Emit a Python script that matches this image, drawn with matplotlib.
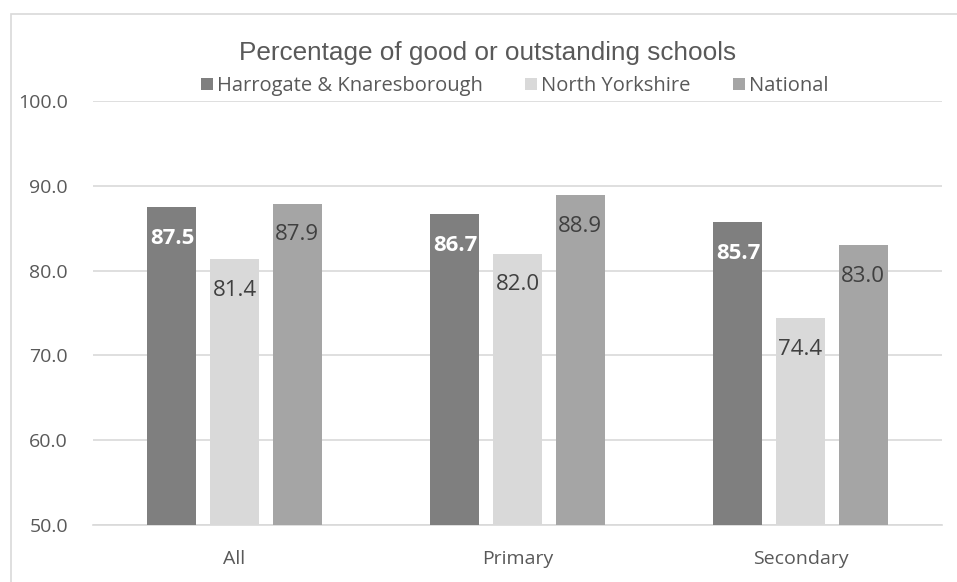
import numpy as np
import matplotlib
matplotlib.use("Agg")
from matplotlib import pyplot as plt
from matplotlib.patches import Rectangle

categories = ["All", "Primary", "Secondary"]
series_names = ["Harrogate & Knaresborough", "North Yorkshire", "National"]
harrogate = [87.5, 86.7, 85.7]
north_yorks = [81.4, 82.0, 74.4]
national = [87.9, 88.9, 83.0]
yticks = [50, 60, 70, 80, 90, 100]

colors = ["#7f7f7f", "#d9d9d9", "#a5a5a5"]
label_colors = ["white", "#404040", "#404040"]
label_weights = ["bold", "normal", "normal"]
text_col = "#595959"

plt.rcParams['font.family'] = ['Open Sans', 'DejaVu Sans']

fig = plt.figure(figsize=(9.57, 5.82), dpi=100)
# chart frame (cut off on the right and bottom)
fig.patches.append(Rectangle((11/957, -0.1), 1.1, (582-14)/582 + 0.1,
                             transform=fig.transFigure, fill=False,
                             edgecolor="#d9d9d9", linewidth=1.2))
ax = fig.add_axes([93/957, 57/582, 849/957, 424/582])

x = np.arange(len(categories))
width = 0.173
offset = 0.221
for i, vals in enumerate([harrogate, north_yorks, national]):
    pos = x + (i - 1) * offset
    bars = ax.bar(pos, np.array(vals) - 50, width, bottom=50, color=colors[i],
                  label=series_names[i], zorder=3)
    for b, v in zip(bars, vals):
        ax.annotate("{:.1f}".format(v), (b.get_x() + b.get_width() / 2, v),
                    xytext=(0, -15), textcoords="offset points",
                    ha="center", va="top", fontsize=16,
                    color=label_colors[i], fontweight=label_weights[i], zorder=4)

ax.set_xlim(-0.5, 2.5)
ax.set_ylim(50, 100)
ax.set_yticks(yticks)
ax.set_yticklabels(["{:.1f}".format(t) for t in yticks])
ax.set_xticks(x)
ax.set_xticklabels(categories)
ax.grid(axis="y", color="#d9d9d9", linewidth=1.2, zorder=0)
for s in ["top", "right", "left"]:
    ax.spines[s].set_visible(False)
ax.spines["bottom"].set_color("#d9d9d9")
ax.spines["bottom"].set_linewidth(1.2)
ax.tick_params(axis="both", length=0, colors=text_col, labelsize=14)
ax.tick_params(axis="y", pad=18)
ax.tick_params(axis="x", pad=18)

fig.text(0.509, 1 - 60/582, "Percentage of good or outstanding schools",
         ha="center", va="baseline", fontsize=18.8,
         family=["Liberation Sans", "DejaVu Sans"], color=text_col)
leg = fig.legend(loc="center", bbox_to_anchor=(0.538, 1 - 86/582), ncol=3,
                 frameon=False, fontsize=14.5, handlelength=0.6,
                 handleheight=0.6, handletextpad=0.2, columnspacing=2.1)
for t in leg.get_texts():
    t.set_color(text_col)

fig.savefig("out.png", dpi=100)
